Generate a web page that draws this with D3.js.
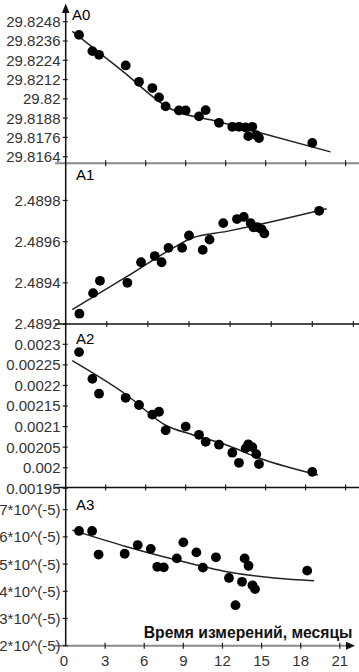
<!DOCTYPE html>
<html>
<head>
<meta charset="utf-8">
<script src="https://cdn.jsdelivr.net/npm/d3@7"></script>
<style>
  html, body { margin: 0; padding: 0; background: #fff; }
  #chart { width: 359px; height: 672px; }
  text { font-family: "Liberation Sans", Arial, sans-serif; fill: #222; }
</style>
</head>
<body>
<div id="chart"></div>
<script>
// Measurement times (months), shared by all four panels
const months = [1, 2, 2.5, 4.5, 5.5, 6.5, 7, 7.5, 8.5, 9, 10, 10.5, 11.5, 12.5, 13, 13.5, 13.7, 14, 14.3, 14.5, 18.5];

// Measured values per panel (null = no point drawn)
const a0Values = [29.82398, 29.82297, 29.82274, 29.82208, 29.82106, 29.82067, 29.82009, 29.81953, 29.81928, 29.81928,
  29.81891, 29.8193, 29.81851, 29.81826, 29.81826, 29.81822, 29.81768, 29.81826, 29.81774, 29.81756, 29.81726];
const a1Values = [2.48925, 2.48935, 2.48941, 2.4894, 2.4895, 2.48953, 2.4895, 2.48957, 2.48957, 2.48963,
  2.48956, 2.48961, 2.48969, 2.48971, 2.48972, 2.48969, 2.48967, 2.48967, 2.48966, 2.48964, 2.48975];
const a2Values = [0.002281, 0.002216, 0.00218, 0.00217, 0.0021525, 0.002129, 0.002136, 0.002091, null, 0.0021,
  0.00208, 0.002063, 0.002056, 0.0020365, 0.002012, 0.002047, 0.002057, 0.00205, 0.002033, 0.002009, 0.00199];
const a3Values = [6.22e-5, 6.22e-5, 5.35e-5, 5.38e-5, 5.70e-5, 5.56e-5, 4.90e-5, 4.88e-5, 5.21e-5, 5.80e-5,
  5.43e-5, 4.87e-5, 5.25e-5, 4.49e-5, 3.49e-5, 4.35e-5, 5.21e-5, 4.94e-5, 4.22e-5, 4.08e-5, 4.76e-5];

// Fitted trend curves
const a0FitMonths = [0.5, 4.15, 7.82, 11.47, 14.58, 19.87];
const a0FitValues = [29.8242, 29.8218, 29.8194, 29.81858, 29.81789, 29.8167];
const a1FitMonths = [0.48, 4.45, 7.61, 9.31, 11.75, 13.2, 19.05];
const a1FitValues = [2.48927, 2.48943, 2.48956, 2.48962, 2.48965, 2.48967, 2.48976];
const a2FitMonths = [0.49, 4.57, 7.46, 9.56, 12.06, 14.55, 18.92];
const a2FitValues = [0.0022602, 0.0021768, 0.0021039, 0.0020796, 0.0020552, 0.0020229, 0.0019823];
const a3FitMonths = [0.48, 4.65, 8.49, 12.32, 16.16, 19.02];
const a3FitValues = [6.25e-5, 5.64e-5, 5.15e-5, 4.72e-5, 4.48e-5, 4.39e-5];

// Tick values and labels
const a0Ticks = [29.8164, 29.8176, 29.8188, 29.82, 29.8212, 29.8224, 29.8236, 29.8248];
const a1Ticks = [2.4892, 2.4894, 2.4896, 2.4898];
const a2Ticks = [0.00195, 0.002, 0.00205, 0.0021, 0.00215, 0.0022, 0.00225, 0.0023];
const a3Ticks = [2e-5, 3e-5, 4e-5, 5e-5, 6e-5, 7e-5];
const a0TickLabels = ['29.8164', '29.8176', '29.8188', '29.82', '29.8212', '29.8224', '29.8236', '29.8248'];
const a1TickLabels = ['2.4892', '2.4894', '2.4896', '2.4898'];
const a2TickLabels = ['0.00195', '0.002', '0.00205', '0.0021', '0.00215', '0.0022', '0.00225', '0.0023'];
const a3TickLabels = ['2*10^(-5)', '3*10^(-5)', '4*10^(-5)', '5*10^(-5)', '6*10^(-5)', '7*10^(-5)'];
const monthTicks = [0, 3, 6, 9, 12, 15, 18, 21];
const xTitle = 'Время измерений, месяцы';

function drawChart() {
  const width = 359, height = 672;
  const axisX = 65.7;

  const svg = d3.select('#chart').append('svg')
    .attr('width', width)
    .attr('height', height);

  // each panel is a separately scaled strip of the original figure
  const panels = [
    { name: 'A0', values: a0Values, fitM: a0FitMonths, fitV: a0FitValues, ticks: a0Ticks, labels: a0TickLabels,
      yDom: [29.8164, 29.8248], yRange: [156.7, 21.7], xEnd: 345.6, x0: 65.7, base: 163.3,
      axisColor: '#8a8a8a', axisW: 2, lx: 72, ly: 19.5 },
    { name: 'A1', values: a1Values, fitM: a1FitMonths, fitV: a1FitValues, ticks: a1Ticks, labels: a1TickLabels,
      yDom: [2.4892, 2.4898], yRange: [324, 200.5], xEnd: 353.4, x0: 65.7, base: 324,
      axisColor: '#111', axisW: 1.5, lx: 76, ly: 179.5 },
    { name: 'A2', values: a2Values, fitM: a2FitMonths, fitV: a2FitValues, ticks: a2Ticks, labels: a2TickLabels,
      yDom: [0.00195, 0.0023], yRange: [488.3, 344.3], xEnd: 345.6, x0: 65.7, base: 487.5,
      axisColor: '#111', axisW: 1.5, lx: 76, ly: 343.5 },
    { name: 'A3', values: a3Values, fitM: a3FitMonths, fitV: a3FitValues, ticks: a3Ticks, labels: a3TickLabels,
      yDom: [2e-5, 7e-5], yRange: [645.7, 509.7], xEnd: 339.8, x0: 66, base: 645.7,
      axisColor: '#8a8a8a', axisW: 2, lx: 76, ly: 510 }
  ];

  panels.forEach((p, i) => {
    const x = d3.scaleLinear().domain([0, 21]).range([p.x0, p.xEnd]);
    const y = d3.scaleLinear().domain(p.yDom).range(p.yRange);
    const g = svg.append('g').attr('class', 'panel-' + i);

    // horizontal (time) axis line of this panel
    g.append('line')
      .attr('x1', 55).attr('x2', i === 3 ? 350 : width)
      .attr('y1', p.base).attr('y2', p.base)
      .attr('stroke', p.axisColor)
      .attr('stroke-width', p.axisW);

    // x tick marks
    g.selectAll('.xtick')
      .data(monthTicks.filter(m => m > 0))
      .enter().append('line')
      .attr('x1', d => x(d)).attr('x2', d => x(d))
      .attr('y1', p.base - 3).attr('y2', p.base + 3)
      .attr('stroke', '#222')
      .attr('stroke-width', 1.2);

    // y ticks and labels
    g.selectAll('.ytick')
      .data(p.ticks)
      .enter().append('line')
      .attr('x1', axisX - 3).attr('x2', axisX + 2)
      .attr('y1', d => y(d)).attr('y2', d => y(d))
      .attr('stroke', '#222')
      .attr('stroke-width', 1.2);

    g.selectAll('.ylabel')
      .data(p.ticks)
      .enter().append('text')
      .attr('x', 60.5)
      .attr('y', d => y(d))
      .attr('dy', '0.36em')
      .style('text-anchor', 'end')
      .style('font-size', '15px')
      .style('fill', '#333')
      .text((d, k) => p.labels[k]);

    // panel name
    g.append('text')
      .attr('x', p.lx).attr('y', p.ly)
      .style('font-size', '15px')
      .style('fill', '#000')
      .text(p.name);

    // trend curve
    const line = d3.line()
      .x(d => x(d[0]))
      .y(d => y(d[1]))
      .curve(d3.curveMonotoneX);
    g.append('path')
      .datum(p.fitM.map((m, k) => [m, p.fitV[k]]))
      .attr('d', line)
      .attr('fill', 'none')
      .attr('stroke', '#222')
      .attr('stroke-width', 1.5);

    // measured points
    const pts = months.map((m, k) => ({ m: m, v: p.values[k] })).filter(d => d.v !== null);
    g.selectAll('.dot')
      .data(pts)
      .enter().append('circle')
      .attr('cx', d => x(d.m))
      .attr('cy', d => y(d.v))
      .attr('r', 4.9)
      .attr('fill', '#000');

    // month labels only under the last panel
    if (i === 3) {
      g.selectAll('.xlabel')
        .data(monthTicks)
        .enter().append('text')
        .attr('x', d => x(d) - (d === 0 ? 2 : 0))
        .attr('y', 666)
        .style('text-anchor', 'middle')
        .style('font-size', '15px')
        .style('fill', '#333')
        .text(d => d);

      g.append('text')
        .attr('x', 352.5).attr('y', 637.5)
        .style('text-anchor', 'end')
        .style('font-size', '15.7px')
        .style('font-weight', 'bold')
        .style('fill', '#111')
        .text(xTitle);

      // arrow at the end of the time axis
      g.append('path')
        .attr('d', `M${355},${p.base} L${346},${p.base - 4} L${346},${p.base + 4} Z`)
        .attr('fill', '#111');
    }
  });

  // vertical axis shared by all panels, with arrow at the top
  svg.append('line')
    .attr('x1', axisX).attr('x2', axisX)
    .attr('y1', 10).attr('y2', 646)
    .attr('stroke', '#111')
    .attr('stroke-width', 1.5);
  svg.append('path')
    .attr('d', `M${axisX},${3.5} L${axisX - 3.8},${13} L${axisX + 3.8},${13} Z`)
    .attr('fill', '#111');
}

document.addEventListener('DOMContentLoaded', drawChart);
</script>
</body>
</html>
